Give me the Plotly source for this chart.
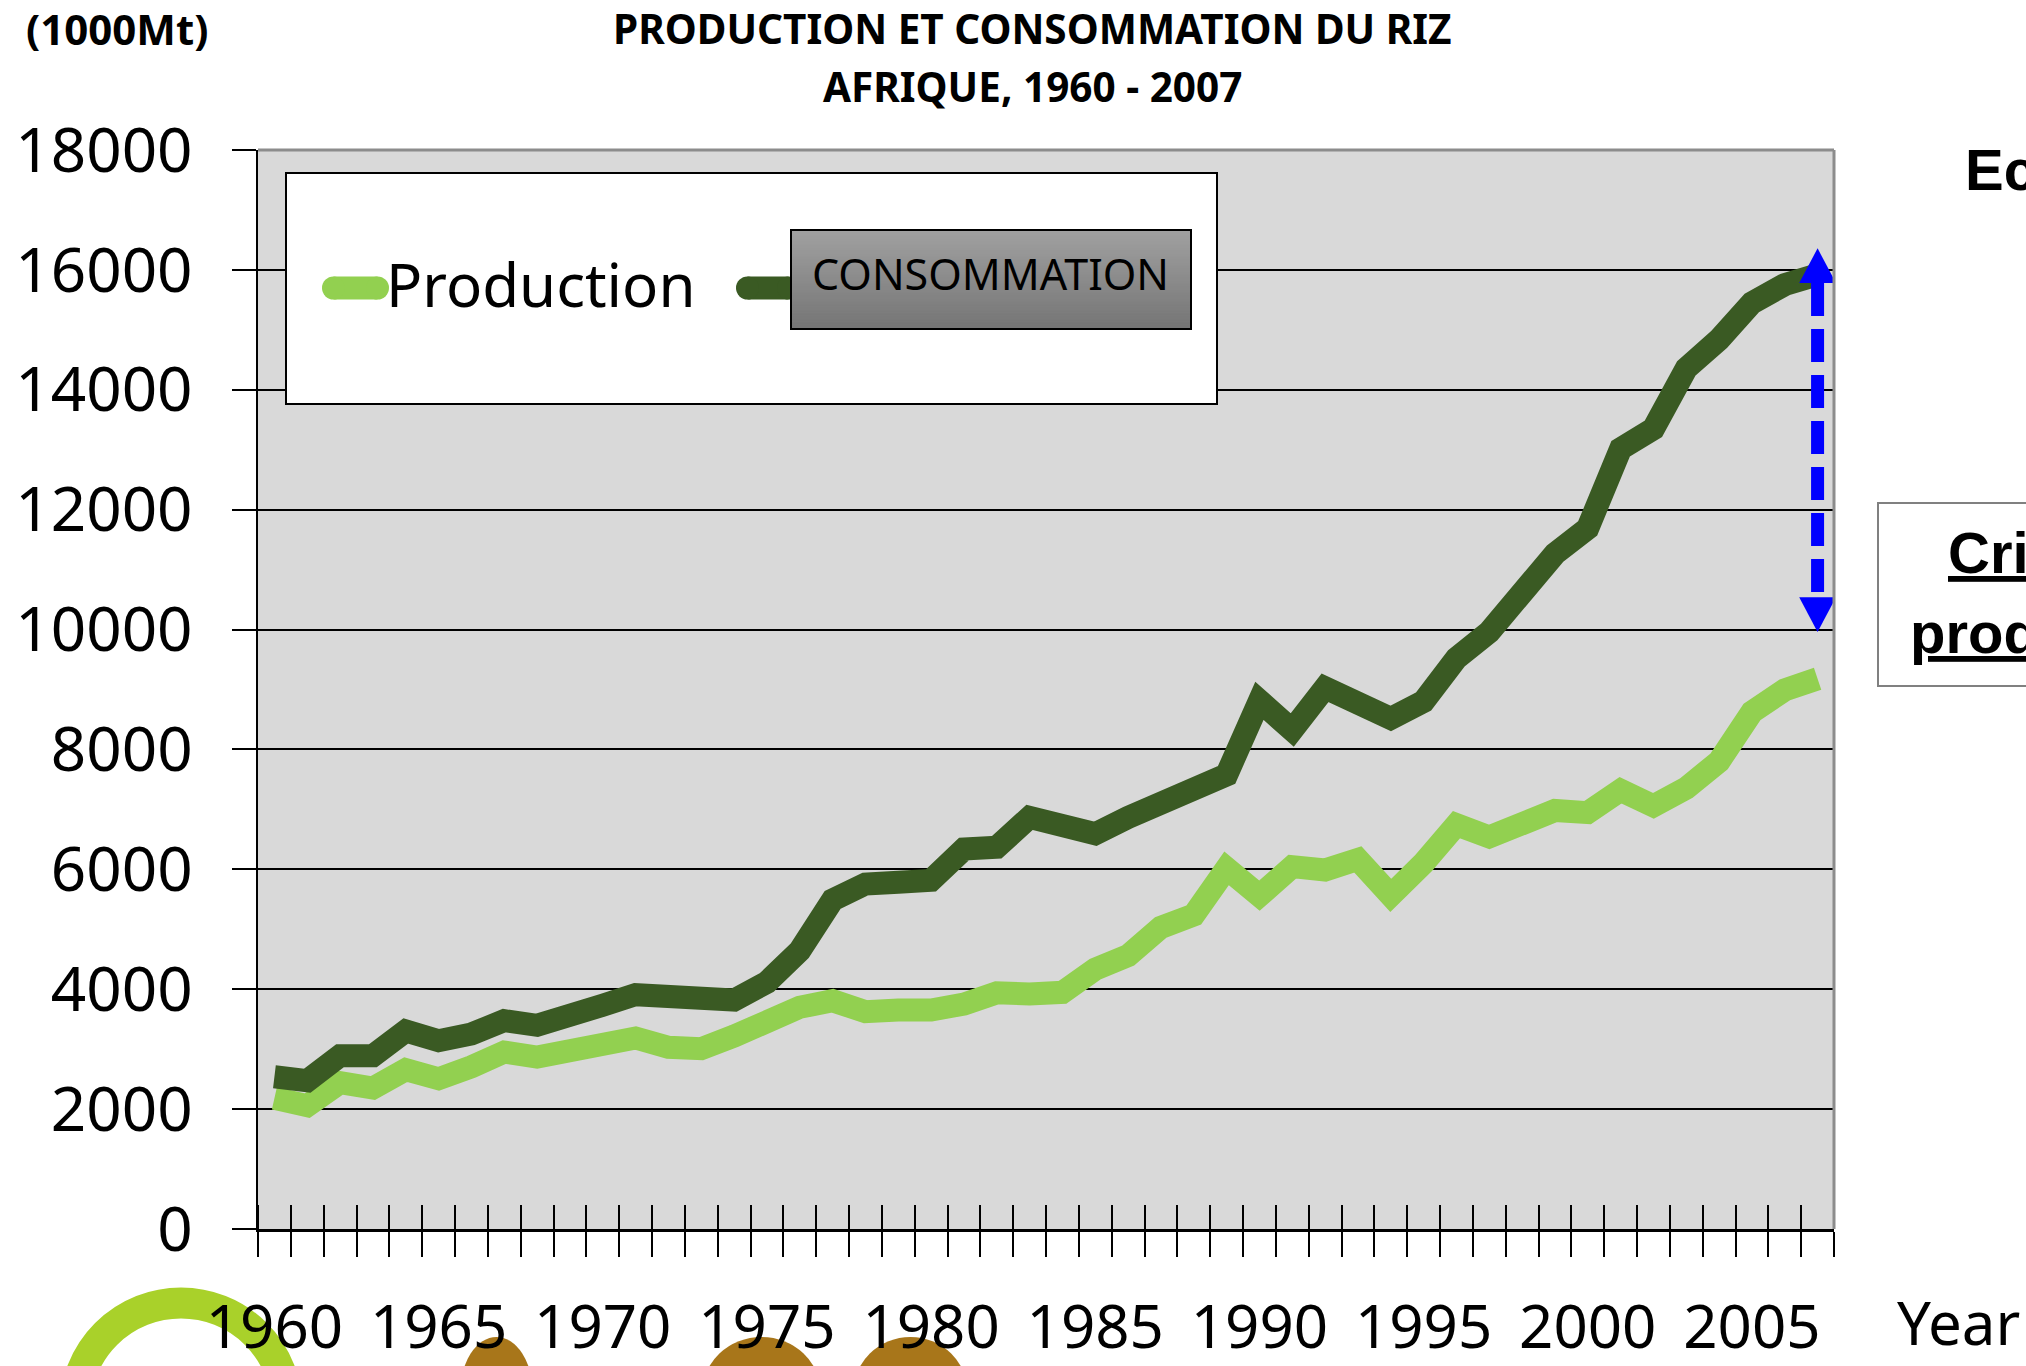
import plotly.graph_objects as go

# données (1000 Mt)
years = list(range(1960, 2008))
production = [2180, 2057, 2441, 2352, 2658, 2507, 2707, 2952, 2869, 2974,
              3069, 3186, 3032, 3008, 3219, 3498, 3698, 3808, 3625, 3653,
              3653, 3753, 3941, 3920, 3948, 4334, 4560, 5032, 5237, 6016,
              5560, 6045, 5988, 6166, 5566, 6105, 6745, 6539, 6722, 6982,
              6946, 7318, 7058, 7356, 7801, 8624, 8994, 9179]
consommation = [2540, 2474, 2891, 2891, 3303, 3141, 3253, 3475, 3398, 3519,
                 3731, 3909, 3856, 3886, 3820, 4115, 4642, 5488, 5755, 5783,
                 5816, 6338, 6367, 6867, 6720, 6594, 6867, 7117, 7339, 7575,
                 8812, 8323, 9029, 8757, 8518, 8800, 9520, 9961, 10595, 11264,
                 11690, 13016, 13350, 14355, 14839, 15450, 15755, 15920]
y_ticks = list(range(0, 18001, 2000))

# flèche "écart" en 2007
arrow_x = 2007
arrow_top = 16360
arrow_bottom = 9960
arrow_head = 580

LIGHT = "#92D050"
DARK = "#3A5A23"
FONT = "Noto Sans"

# zone de tracé en pixels
PX0, PX1, PY0, PY1 = 258, 1834, 150, 1229


def px(x):
    return (x - PX0) / (PX1 - PX0)


def py(y):
    return (PY1 - y) / (PY1 - PY0)


fig = go.Figure()

fig.add_trace(go.Scatter(x=years, y=production, mode="lines", name="Production",
                         line=dict(color=LIGHT, width=23), showlegend=False))
fig.add_trace(go.Scatter(x=years, y=consommation, mode="lines", name="CONSOMMATION",
                         line=dict(color=DARK, width=23), showlegend=False))

# tige pointillée de la flèche (sur x2 pour les graduations intérieures)
fig.add_trace(go.Scatter(x=[arrow_x, arrow_x],
                         y=[arrow_top - arrow_head, arrow_bottom + arrow_head],
                         mode="lines", xaxis="x2",
                         line=dict(color="#0000FF", width=13, dash="33px,13px"),
                         showlegend=False, hoverinfo="skip"))

shapes = []
hw = 0.56
shapes.append(dict(type="path", xref="x", yref="y", layer="above",
                   path=f"M {arrow_x - hw},{arrow_top - arrow_head} L {arrow_x + hw},{arrow_top - arrow_head} L {arrow_x},{arrow_top} Z",
                   fillcolor="#0000FF", line=dict(width=0)))
shapes.append(dict(type="path", xref="x", yref="y", layer="above",
                   path=f"M {arrow_x - hw},{arrow_bottom + arrow_head} L {arrow_x + hw},{arrow_bottom + arrow_head} L {arrow_x},{arrow_bottom} Z",
                   fillcolor="#0000FF", line=dict(width=0)))

# bord gris haut / droite
shapes.append(dict(type="line", xref="paper", yref="paper", x0=0, x1=1, y0=1, y1=1,
                   line=dict(color="#8C8C8C", width=3), layer="above"))
shapes.append(dict(type="line", xref="paper", yref="paper", x0=1, x1=1, y0=0, y1=1,
                   line=dict(color="#8C8C8C", width=3), layer="above"))

# légende
shapes.append(dict(type="rect", xref="paper", yref="paper",
                   x0=px(286), x1=px(1217), y0=py(404), y1=py(173),
                   fillcolor="white", line=dict(color="black", width=2), layer="above"))


def capsule(x0, x1, yc, color, th=23):
    r = th / 2
    out = [dict(type="rect", xref="paper", yref="paper", x0=px(x0 + r), x1=px(x1 - r),
                y0=py(yc + r), y1=py(yc - r), fillcolor=color, line=dict(width=0), layer="above")]
    for cx in (x0 + r, x1 - r):
        out.append(dict(type="circle", xref="paper", yref="paper", x0=px(cx - r), x1=px(cx + r),
                        y0=py(yc + r), y1=py(yc - r), fillcolor=color, line=dict(width=0), layer="above"))
    return out


shapes += capsule(322, 389, 288, LIGHT)
shapes += capsule(736, 800, 288, DARK)

# boîte grise dégradée "CONSOMMATION"
gx0, gx1, gy0, gy1 = 791, 1191, 230, 329
n = 33
c0, c1 = 0xA0, 0x76
for i in range(n):
    c = round(c0 + (c1 - c0) * i / (n - 1))
    shapes.append(dict(type="rect", xref="paper", yref="paper",
                       x0=px(gx0), x1=px(gx1),
                       y0=py(gy0 + (gy1 - gy0) * (i + 1) / n), y1=py(gy0 + (gy1 - gy0) * i / n),
                       fillcolor=f"rgb({c},{c},{c})", line=dict(color=f"rgb({c},{c},{c})", width=1),
                       layer="above"))
shapes.append(dict(type="rect", xref="paper", yref="paper",
                   x0=px(gx0), x1=px(gx1), y0=py(gy1), y1=py(gy0),
                   line=dict(color="black", width=2), layer="above"))

# encadré à droite
shapes.append(dict(type="rect", xref="paper", yref="paper",
                   x0=px(1878), x1=px(2060), y0=py(686), y1=py(503),
                   fillcolor="white", line=dict(color="#808080", width=2), layer="above"))

# logo en bas
shapes.append(dict(type="circle", xref="paper", yref="paper",
                   x0=px(181 - 106), x1=px(181 + 106), y0=py(1409 + 106), y1=py(1409 - 106),
                   fillcolor="white", line=dict(color="#A9D12A", width=31), layer="below"))
for bx0, bx1 in [(460, 533), (702, 821), (853, 968)]:
    shapes.append(dict(type="circle", xref="paper", yref="paper",
                       x0=px(bx0), x1=px(bx1), y0=py(1450), y1=py(1337),
                       fillcolor="#A8761A", line=dict(width=0), layer="below"))

annotations = [
    dict(text="<b>(1000Mt)</b>", x=px(24), y=py(28), xanchor="left", yanchor="middle",
         font=dict(family=FONT, size=42, color="black")),
    dict(text="<b>PRODUCTION ET CONSOMMATION DU RIZ</b>", x=px(1032), y=py(28),
         xanchor="center", yanchor="middle", font=dict(family=FONT, size=40.5, color="black")),
    dict(text="<b>AFRIQUE, 1960 - 2007</b>", x=px(1032), y=py(86),
         xanchor="center", yanchor="middle", font=dict(family=FONT, size=40.5, color="black")),
    dict(text="Year", x=px(1895), y=py(1322), xanchor="left", yanchor="middle",
         font=dict(family=FONT, size=60, color="black")),
    dict(text="Production", x=px(384), y=py(284), xanchor="left", yanchor="middle",
         font=dict(family=FONT, size=60, color="black")),
    dict(text="CONSOMMATION", x=px(990), y=py(274), xanchor="center", yanchor="middle",
         font=dict(family=FONT, size=43, color="black")),
    dict(text="<b>Ecart</b>", x=px(1963), y=py(170), xanchor="left", yanchor="middle",
         font=dict(family="Liberation Sans", size=58, color="black")),
    dict(text="<b>Crise de la</b>", x=px(1946), y=py(552), xanchor="left", yanchor="middle",
         font=dict(family="Liberation Sans", size=58, color="black", lineposition="under")),
    dict(text="<b>production</b>", x=px(1908), y=py(632), xanchor="left", yanchor="middle",
         font=dict(family="Liberation Sans", size=58, color="black", lineposition="under")),
]
for a in annotations:
    a.update(xref="paper", yref="paper", showarrow=False)

fig.update_layout(
    width=2026, height=1366,
    margin=dict(l=258, r=192, t=150, b=137),
    paper_bgcolor="white", plot_bgcolor="#D9D9D9",
    shapes=shapes, annotations=annotations,
    showlegend=False,
    xaxis=dict(type="linear", range=[1959.5, 2007.5], tickmode="linear", tick0=1960, dtick=5,
               ticks="", showline=True, linecolor="black", linewidth=3,
               showgrid=False, zeroline=False, automargin=False,
               tickfont=dict(family=FONT, size=60, color="black"), ticklabelstandoff=44,
               minor=dict(ticks="outside", tick0=1959.5, dtick=1, ticklen=25, tickwidth=2,
                          tickcolor="black", showgrid=False)),
    xaxis2=dict(overlaying="x", matches="x", anchor="y", side="bottom", automargin=False,
                showticklabels=False, ticks="", showline=False, showgrid=False, zeroline=False,
                minor=dict(ticks="inside", tick0=1959.5, dtick=1, ticklen=24, tickwidth=2,
                           tickcolor="black", showgrid=False)),
    yaxis=dict(range=[0, 18000], tickmode="array", tickvals=y_ticks, tickformat="d",
               ticks="outside", ticklen=24, tickwidth=2, tickcolor="black",
               showline=True, linecolor="black", linewidth=2, automargin=False,
               showgrid=True, gridcolor="black", gridwidth=2, zeroline=False,
               tickfont=dict(family=FONT, size=62, color="black"), ticklabelstandoff=27),
)

# pas de marge autour de la figure dans la page
fig.write_html("out.html", post_script="document.body.style.margin='0';",
               config={"displayModeBar": False})
